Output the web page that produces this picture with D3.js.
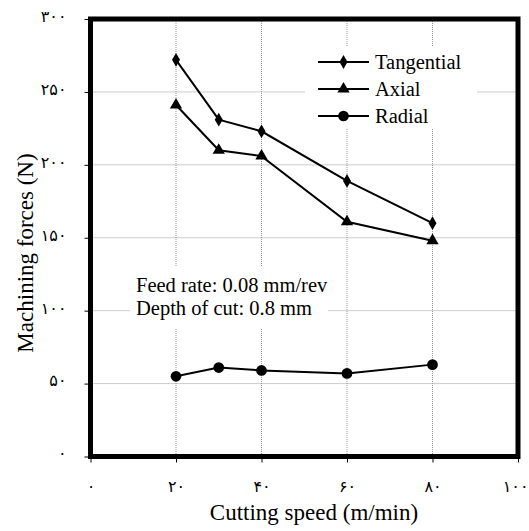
<!DOCTYPE html>
<html>
<head>
<meta charset="utf-8">
<script src="https://cdn.jsdelivr.net/npm/d3@7"></script>
<style>
  body { margin: 0; background: #fff; }
  text { font-family: "Liberation Serif", "Times New Roman", serif; fill: #000; }
  .tick text { font-family: "Liberation Serif", "DejaVu Sans", serif; }
</style>
</head>
<body>
<svg id="chart" width="529" height="531"></svg>
<script>
// cutting speed (m/min)
var speeds = [20, 30, 40, 60, 80]

var tangential = [272, 231, 223, 189, 160]
var axial = [241, 210, 206, 161, 148]
var radial = [55, 61, 59, 57, 63]

var xTicks = [0, 20, 40, 60, 80, 100]
var xTickLabels = ["۰", "۲۰", "۴۰", "۶۰", "۸۰", "۱۰۰"]
var yTicks = [0, 50, 100, 150, 200, 250, 300]
var yTickLabels = ["۰", "۵۰", "۱۰۰", "۱۵۰", "۲۰۰", "۲۵۰", "۳۰۰"]

var series = [
  {name: "Tangential", values: tangential, marker: d3.symbolDiamond, size: 55},
  {name: "Axial", values: axial, marker: d3.symbolTriangle, size: 65},
  {name: "Radial", values: radial, marker: d3.symbolCircle, size: 90}
]

var svg = d3.select('#chart')
var plotL = 90.5, plotR = 518, plotT = 19, plotB = 456.5

var x = d3.scaleLinear().domain([0, 100]).range([plotL, plotR])
var y = d3.scaleLinear().domain([0, 300]).range([plotB, plotT])

// grid
var grid = svg.append('g')
grid.selectAll('line.gx')
  .data(xTicks.slice(1, -1))
  .enter().append('line')
  .attr('x1', d => x(d)).attr('x2', d => x(d))
  .attr('y1', plotT).attr('y2', plotB)
  .style('stroke', '#999').style('stroke-width', 1).style('stroke-dasharray', '1,1')
grid.selectAll('line.gy')
  .data(yTicks.slice(1, -1))
  .enter().append('line')
  .attr('y1', d => y(d)).attr('y2', d => y(d))
  .attr('x1', plotL).attr('x2', plotR)
  .style('stroke', '#999').style('stroke-width', 1).style('stroke-dasharray', '1,1')

// axes
var xAxis = d3.axisBottom(x).tickValues(xTicks)
  .tickFormat((d, i) => xTickLabels[i]).tickSize(6).tickPadding(18)
var yAxis = d3.axisLeft(y).tickValues(yTicks)
  .tickFormat((d, i) => yTickLabels[i]).tickSize(6).tickPadding(18)

var gx = svg.append('g').attr('transform', 'translate(0,' + plotB + ')').call(xAxis)
var gy = svg.append('g').attr('transform', 'translate(' + plotL + ',0)').call(yAxis)
;[gx, gy].forEach(function (g) {
  g.select('.domain').remove()
  g.selectAll('.tick line').style('stroke', '#000')
  g.selectAll('.tick text').style('font-size', '16px')
})
gy.selectAll('.tick text').attr('dy', '0.15em')
// last label sits at the right edge of the picture
gx.selectAll('.tick text').filter(d => d === 100)
  .attr('text-anchor', 'end').attr('x', 10)

// text boxes (white background over the grid)
svg.append('rect').attr('x', 305).attr('y', 47).attr('width', 172).attr('height', 81).style('fill', '#fff')
svg.append('rect').attr('x', 130).attr('y', 266).attr('width', 198).attr('height', 63).style('fill', '#fff')

svg.append('text').attr('x', 136).attr('y', 292).style('font-size', '20.5px').text('Feed rate: 0.08 mm/rev')
svg.append('text').attr('x', 136).attr('y', 315).style('font-size', '20.5px').text('Depth of cut: 0.8 mm')

// lines
var line = d3.line().x((d, i) => x(speeds[i])).y(d => y(d))
series.forEach(function (s) {
  svg.append('path')
    .datum(s.values)
    .attr('d', line)
    .style('fill', 'none').style('stroke', '#000').style('stroke-width', 2)
  svg.selectAll(null)
    .data(s.values)
    .enter().append('path')
    .attr('d', d3.symbol().type(s.marker).size(s.size))
    .attr('transform', (d, i) => 'translate(' + x(speeds[i]) + ',' + y(d) + ')')
    .style('fill', '#000')
})

// legend
var legend = svg.append('g')
series.forEach(function (s, i) {
  var ly = 62 + i * 27
  legend.append('line').attr('x1', 318).attr('x2', 369).attr('y1', ly).attr('y2', ly)
    .style('stroke', '#000').style('stroke-width', 2)
  legend.append('path')
    .attr('d', d3.symbol().type(s.marker).size(s.size))
    .attr('transform', 'translate(343.5,' + ly + ')')
    .style('fill', '#000')
  legend.append('text').attr('x', 375).attr('y', ly + 7).style('font-size', '20.5px').text(s.name)
})

// frame
svg.append('rect')
  .attr('x', plotL).attr('y', plotT)
  .attr('width', plotR - plotL).attr('height', plotB - plotT)
  .style('fill', 'none').style('stroke', '#000').style('stroke-width', 5)

// axis titles
svg.append('text').attr('x', 314).attr('y', 520).attr('text-anchor', 'middle')
  .style('font-size', '23px').text('Cutting speed (m/min)')
svg.append('text').attr('transform', 'translate(33,253) rotate(-90)').attr('text-anchor', 'middle')
  .style('font-size', '23px').text('Machining forces (N)')
</script>
</body>
</html>
